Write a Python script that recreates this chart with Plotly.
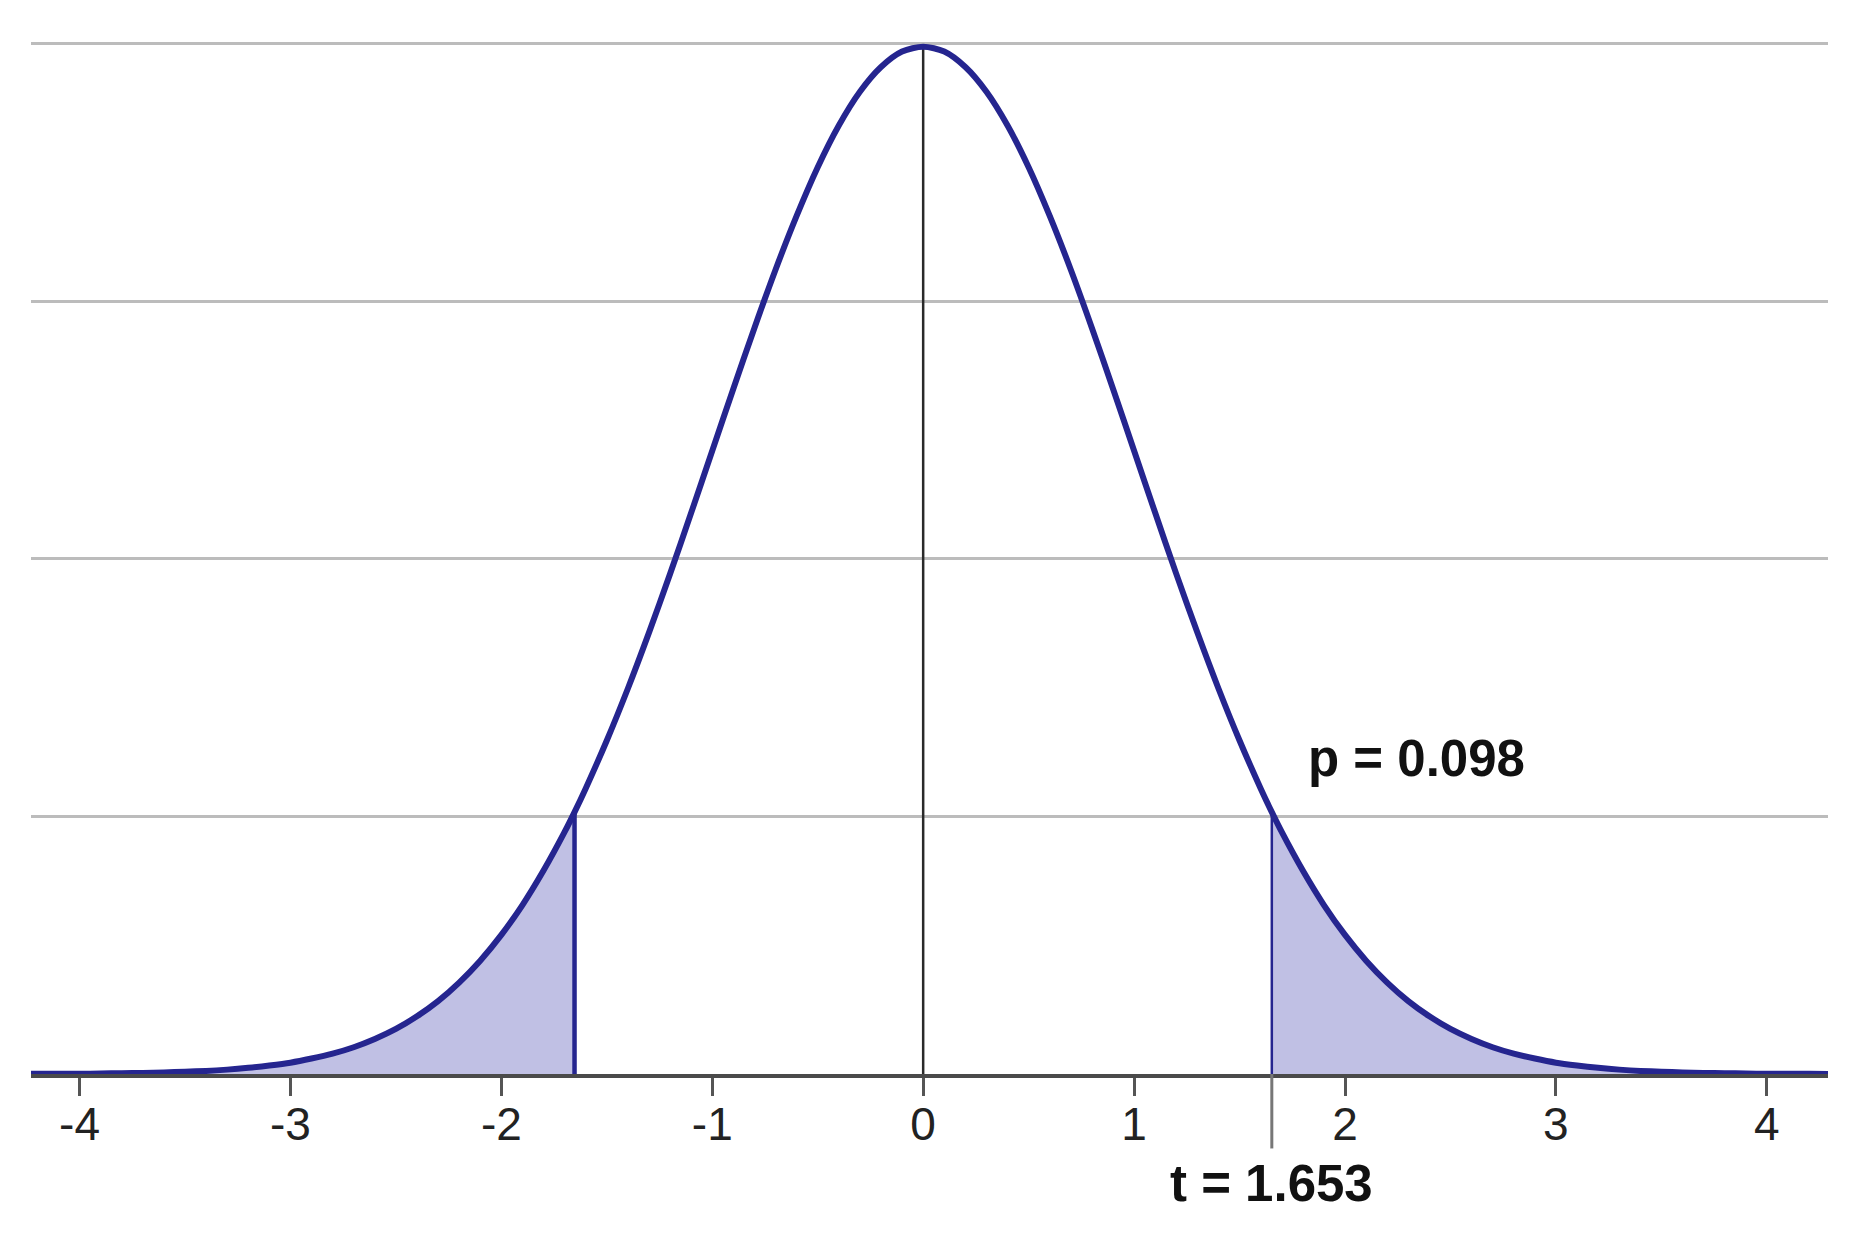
import plotly.graph_objects as go

# ---- data ----
t_stat = 1.653
p_value = 0.098

curve_x = [-4.3, -4.2, -4.1, -4.0, -3.9, -3.8, -3.7, -3.6, -3.5, -3.4, -3.3, -3.2, -3.1, -3.0,
           -2.9, -2.8, -2.7, -2.6, -2.5, -2.4, -2.3, -2.2, -2.1, -2.0, -1.9, -1.8, -1.7, -1.653,
           -1.6, -1.5, -1.4, -1.3, -1.2, -1.1, -1.0, -0.9, -0.8, -0.7, -0.6, -0.5, -0.4, -0.3,
           -0.2, -0.1, 0.0, 0.1, 0.2, 0.3, 0.4, 0.5, 0.6, 0.7, 0.8, 0.9, 1.0, 1.1, 1.2, 1.3,
           1.4, 1.5, 1.6, 1.653, 1.7, 1.8, 1.9, 2.0, 2.1, 2.2, 2.3, 2.4, 2.5, 2.6, 2.7, 2.8,
           2.9, 3.0, 3.1, 3.2, 3.3, 3.4, 3.5, 3.6, 3.7, 3.8, 3.9, 4.0, 4.1, 4.2, 4.3]
curve_y = [0.0000, 0.0001, 0.0001, 0.0001, 0.0002, 0.0003, 0.0004, 0.0006, 0.0009, 0.0012, 0.0017, 0.0024, 0.0033, 0.0044,
           0.0060, 0.0079, 0.0104, 0.0136, 0.0175, 0.0224, 0.0283, 0.0355, 0.0440, 0.0540, 0.0656, 0.0790, 0.0940, 0.1017,
           0.1109, 0.1295, 0.1497, 0.1714, 0.1942, 0.2179, 0.2420, 0.2661, 0.2897, 0.3123, 0.3332, 0.3521, 0.3683, 0.3814,
           0.3910, 0.3970, 0.3989, 0.3970, 0.3910, 0.3814, 0.3683, 0.3521, 0.3332, 0.3123, 0.2897, 0.2661, 0.2420, 0.2179, 0.1942, 0.1714,
           0.1497, 0.1295, 0.1109, 0.1017, 0.0940, 0.0790, 0.0656, 0.0540, 0.0440, 0.0355, 0.0283, 0.0224, 0.0175, 0.0136, 0.0104, 0.0079,
           0.0060, 0.0044, 0.0033, 0.0024, 0.0017, 0.0012, 0.0009, 0.0006, 0.0004, 0.0003, 0.0002, 0.0001, 0.0001, 0.0001, 0.0000]

tick_vals = [-4, -3, -2, -1, 0, 1, 2, 3, 4]
tick_text = ["-4", "-3", "-2", "-1", "0", "1", "2", "3", "4"]
grid_vals = [0.1, 0.2, 0.3, 0.4]

NAVY = "#25258f"
FILL = "#c0c0e4"
TXT_FONT = "Liberation Sans, Arial, sans-serif"

left_x = [x for x in curve_x if x <= -t_stat]
left_y = [y for x, y in zip(curve_x, curve_y) if x <= -t_stat]
right_x = [x for x in curve_x if x >= t_stat]
right_y = [y for x, y in zip(curve_x, curve_y) if x >= t_stat]
peak_y = max(curve_y)
cut_y = curve_y[curve_x.index(t_stat)]

fig = go.Figure()

# shaded tails
fig.add_trace(go.Scatter(x=left_x, y=left_y, mode="lines", line=dict(width=0, shape="spline"),
                         fill="tozeroy", fillcolor=FILL, hoverinfo="skip", showlegend=False))
fig.add_trace(go.Scatter(x=right_x, y=right_y, mode="lines", line=dict(width=0, shape="spline"),
                         fill="tozeroy", fillcolor=FILL, hoverinfo="skip", showlegend=False))

# centre line
fig.add_trace(go.Scatter(x=[0, 0], y=[0, peak_y], mode="lines",
                         line=dict(color="#2a2a2a", width=2.5), showlegend=False))

# cut-off lines
fig.add_trace(go.Scatter(x=[-t_stat, -t_stat], y=[0, cut_y], mode="lines",
                         line=dict(color=NAVY, width=4.5), showlegend=False))
fig.add_trace(go.Scatter(x=[t_stat, t_stat], y=[0, cut_y], mode="lines",
                         line=dict(color=NAVY, width=2.5), showlegend=False))

# density curve
fig.add_trace(go.Scatter(x=curve_x, y=curve_y, mode="lines",
                         line=dict(color=NAVY, width=6, shape="spline", smoothing=0.8),
                         showlegend=False))

# grey extension of t line below axis
fig.add_shape(type="line", xref="x", yref="paper", x0=t_stat, x1=t_stat, y0=0, y1=-0.072,
              line=dict(color="#777777", width=3))

fig.add_annotation(x=2.34, y=0.1225, xref="x", yref="y", text="<b>p = %.3f</b>" % p_value,
                   showarrow=False, xanchor="center", yanchor="middle",
                   font=dict(family=TXT_FONT, size=51, color="#111111"))
fig.add_annotation(x=t_stat, y=-0.106, xref="x", yref="paper", text="<b>t = %.3f</b>" % t_stat,
                   showarrow=False, xanchor="center", yanchor="middle",
                   font=dict(family=TXT_FONT, size=51, color="#111111"))

fig.update_xaxes(range=[-4.23, 4.29], tickvals=tick_vals, ticktext=tick_text,
                 showline=True, linecolor="#4a4a4a", linewidth=4,
                 ticks="outside", ticklen=18, tickwidth=3, tickcolor="#555555",
                 ticklabelstandoff=-11,
                 tickfont=dict(family=TXT_FONT, size=46, color="#222222"),
                 showgrid=False, zeroline=False)
fig.update_yaxes(range=[0, 0.4015], tickvals=grid_vals, showticklabels=False,
                 showgrid=True, gridcolor="#bcbcbc", gridwidth=3, zeroline=False, showline=False)

fig.update_layout(width=1860, height=1226, plot_bgcolor="white", paper_bgcolor="white",
                  margin=dict(l=23, r=40, t=32, b=160))

fig.write_html("out.html")
